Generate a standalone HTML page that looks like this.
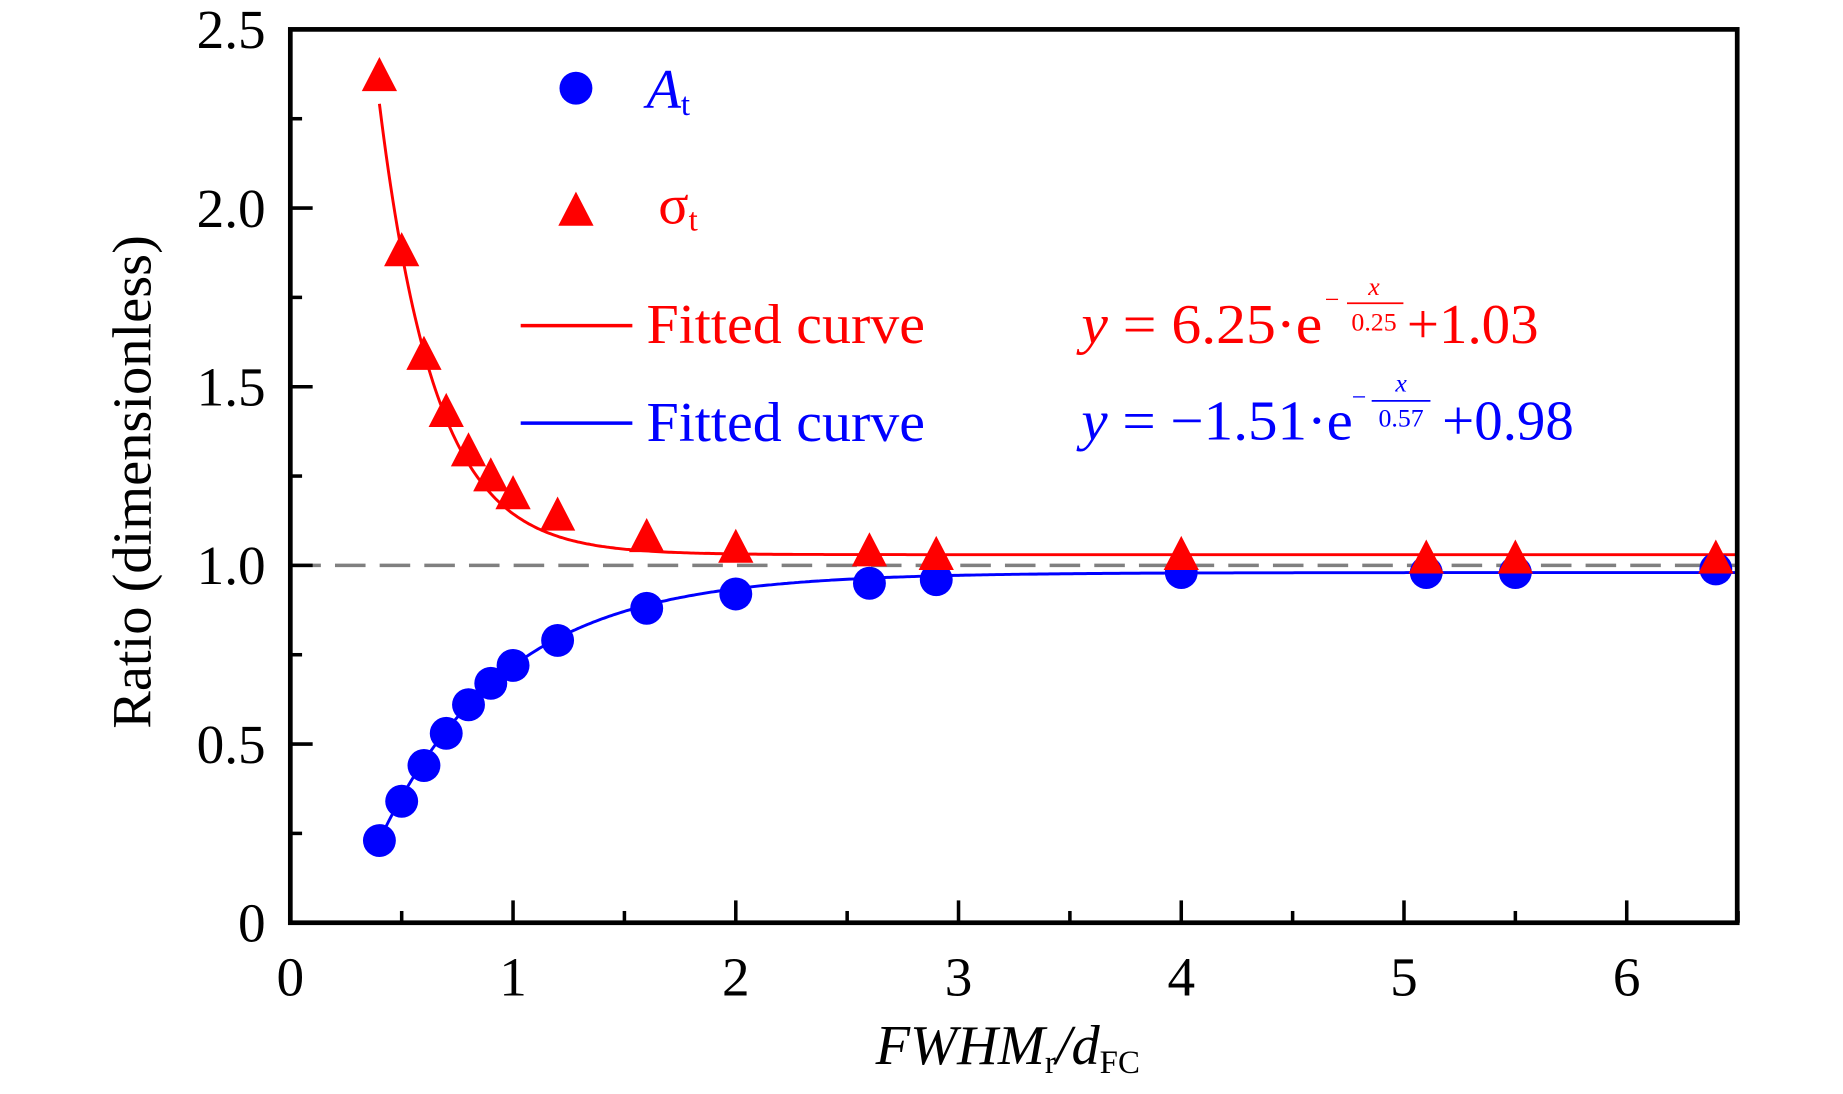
<!DOCTYPE html>
<html><head><meta charset="utf-8"><style>html,body{margin:0;padding:0;background:#fff;}svg{display:block}</style></head><body>
<svg width="1843" height="1094" viewBox="0 0 1568 930.7" preserveAspectRatio="none" xmlns="http://www.w3.org/2000/svg" font-family="'Liberation Serif', serif">
<rect width="1568" height="931" fill="#fff"/>
<line x1="247" y1="481" x2="1478" y2="481" stroke="#808080" stroke-width="3" stroke-dasharray="26,12"/>
<g id="curves" fill="none" stroke-width="2.5"></g>
<g id="marks"></g>
<rect x="247" y="25" width="1231" height="760" fill="none" stroke="#000" stroke-width="4"/>
<g id="ticks" stroke="#000" stroke-width="3"></g>
<g font-size="47" fill="#000" text-anchor="end">
<text x="226" y="801">0</text><text x="226" y="649">0.5</text><text x="226" y="497">1.0</text><text x="226" y="345">1.5</text><text x="226" y="193">2.0</text><text x="226" y="41">2.5</text>
</g>
<g font-size="47" fill="#000" text-anchor="middle">
<text x="247" y="847">0</text><text x="436.5" y="847">1</text><text x="626" y="847">2</text><text x="815.5" y="847">3</text><text x="1005" y="847">4</text><text x="1194.5" y="847">5</text><text x="1384" y="847">6</text>
</g>
<text transform="translate(128,410) rotate(-90)" font-size="47" text-anchor="middle" textLength="420" lengthAdjust="spacingAndGlyphs">Ratio (dimensionless)</text>
<text x="745" y="905" font-size="48" font-style="italic">FWHM<tspan font-style="normal" font-size="28" dy="8">r</tspan><tspan dy="-8">/d</tspan><tspan font-style="normal" font-size="28" dy="8">FC</tspan></text>
<circle cx="490" cy="75" r="14" fill="#0000ff"/>
<text x="550" y="92" font-size="48" fill="#0000ff" font-style="italic">A<tspan font-style="normal" font-size="28" dy="6">t</tspan></text>
<polygon points="475,192 505,192 490,163" fill="#ff0000"/>
<text x="560" y="190" font-size="48" fill="#ff0000">σ<tspan font-size="28" dy="6">t</tspan></text>
<line x1="443" y1="277" x2="538" y2="277" stroke="#ff0000" stroke-width="3"/>
<text x="550" y="292" font-size="48" fill="#ff0000" textLength="237" lengthAdjust="spacingAndGlyphs">Fitted curve</text>
<line x1="443" y1="360" x2="538" y2="360" stroke="#0000ff" stroke-width="3"/>
<text x="550" y="375" font-size="48" fill="#0000ff" textLength="237" lengthAdjust="spacingAndGlyphs">Fitted curve</text>
<g fill="#ff0000">
<text x="920" y="292" font-size="48" textLength="205" lengthAdjust="spacingAndGlyphs"><tspan font-style="italic">y</tspan> = 6.25·e</text>
<text x="1127" y="262" font-size="22">−</text>
<line x1="1146" y1="258" x2="1194" y2="258" stroke="#ff0000" stroke-width="1.5"/>
<text x="1169" y="251" font-size="22" font-style="italic" text-anchor="middle">x</text>
<text x="1169" y="281" font-size="22" text-anchor="middle">0.25</text>
<text x="1197" y="292" font-size="48" textLength="112" lengthAdjust="spacingAndGlyphs">+1.03</text>
</g>
<g fill="#0000ff">
<text x="920" y="374" font-size="48" textLength="231" lengthAdjust="spacingAndGlyphs"><tspan font-style="italic">y</tspan> = −1.51·e</text>
<text x="1150" y="345" font-size="22">−</text>
<line x1="1167" y1="341" x2="1217" y2="341" stroke="#0000ff" stroke-width="1.5"/>
<text x="1192" y="333" font-size="22" font-style="italic" text-anchor="middle">x</text>
<text x="1192" y="363" font-size="22" text-anchor="middle">0.57</text>
<text x="1227" y="374" font-size="48" textLength="112" lengthAdjust="spacingAndGlyphs">+0.98</text>
</g>
<script>
(function(){
var NS="http://www.w3.org/2000/svg";
function X(v){return 247+189.5*v;} function Y(v){return 785-304*v;}
var c=document.getElementById('curves'),m=document.getElementById('marks'),t=document.getElementById('ticks');
function el(p,n,a){var e=document.createElementNS(NS,n);for(var k in a)e.setAttribute(k,a[k]);p.appendChild(e);return e;}
var r="",b="";
for(var x=0.4;x<=6.5;x+=0.01){r+=(r?"L":"M")+X(x).toFixed(1)+","+Y(6.25*Math.exp(-x/0.25)+1.03).toFixed(1);
b+=(b?"L":"M")+X(x).toFixed(1)+","+Y(-1.51*Math.exp(-x/0.57)+0.98).toFixed(1);}
el(c,'path',{d:r,stroke:'#ff0000'});el(c,'path',{d:b,stroke:'#0000ff'});
var s=[[0.4,2.37],[0.5,1.88],[0.6,1.59],[0.7,1.43],[0.8,1.32],[0.9,1.25],[1.0,1.20],[1.2,1.14],[1.6,1.08],[2.0,1.05],[2.6,1.04],[2.9,1.03],[4,1.03],[5.1,1.02],[5.5,1.02],[6.4,1.02]];
var a=[[0.4,0.23],[0.5,0.34],[0.6,0.44],[0.7,0.53],[0.8,0.61],[0.9,0.67],[1.0,0.72],[1.2,0.79],[1.6,0.88],[2.0,0.92],[2.6,0.95],[2.9,0.96],[4,0.98],[5.1,0.98],[5.5,0.98],[6.4,0.99]];
a.forEach(function(p){el(m,'circle',{cx:X(p[0]),cy:Y(p[1]),r:14,fill:'#0000ff'});});
s.forEach(function(p){var x=X(p[0]),y=Y(p[1]);el(m,'polygon',{points:(x-15)+","+(y+13)+" "+(x+15)+","+(y+13)+" "+x+","+(y-16),fill:'#ff0000'});});
for(var i=0;i<=13;i++){var v=i*0.5,L=(i%2==0)?19:10;if(v>6.5)break;el(t,'line',{x1:X(v),y1:785,x2:X(v),y2:785-L});}
for(var i=0;i<=10;i++){var v=i*0.25,L=(i%2==0)?19:10;el(t,'line',{x1:247,y1:Y(v),x2:247+L,y2:Y(v)});}
})();
</script>
</svg>
</body></html>
